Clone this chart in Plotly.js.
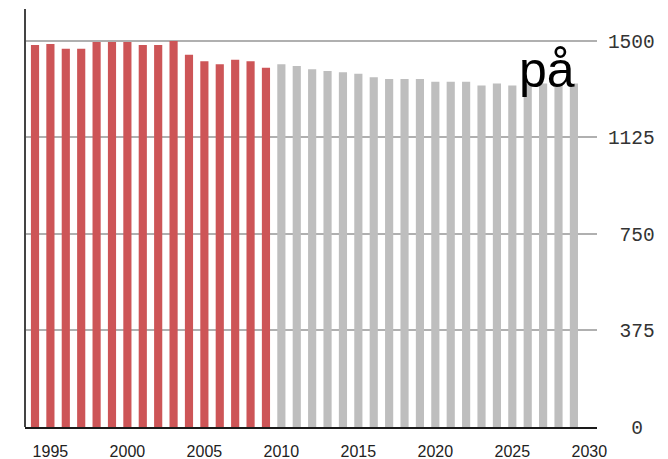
<!DOCTYPE html>
<html>
<head>
<meta charset="utf-8">
<script src="https://cdn.plot.ly/plotly-3.0.1.min.js"></script>
<style>html,body{margin:0;padding:0;background:#fff;}#chart{width:668px;height:459px;}</style>
</head>
<body>
<div id="chart"></div>
<script>
var histYears = [1994,1995,1996,1997,1998,1999,2000,2001,2002,2003,2004,2005,2006,2007,2008,2009];
var histValues = [1484,1488,1470,1470,1496,1496,1496,1484,1484,1500,1446,1421,1409,1427,1421,1396];
var projYears = [2010,2011,2012,2013,2014,2015,2016,2017,2018,2019,2020,2021,2022,2023,2024,2025,2026,2027,2028,2029];
var projValues = [1409,1403,1390,1383,1378,1372,1359,1352,1352,1352,1341,1341,1341,1327,1335,1327,1335,1335,1335,1335];
var xTickVals = [1995,2000,2005,2010,2015,2020,2025,2030];
var yTickVals = [0,375,750,1125,1500];
var yTickText = ["\u00a0\u00a00","\u00a0375","\u00a0750","1125","1500"];
var label = "på";

var traces = [
  {type:'bar', x:histYears, y:histValues, width:0.53, marker:{color:'#cd5557', line:{width:0}}, hoverinfo:'x+y', showlegend:false},
  {type:'bar', x:projYears, y:projValues, width:0.53, marker:{color:'#bebebe', line:{width:0}}, hoverinfo:'x+y', showlegend:false}
];

var layout = {
  width:668, height:459,
  margin:{l:25, r:71, t:9, b:32, pad:0},
  paper_bgcolor:'#ffffff', plot_bgcolor:'#ffffff',
  barmode:'overlay',
  showlegend:false,
  xaxis:{
    range:[1993.35, 2030.5], tickvals:xTickVals, ticktext:xTickVals.map(String),
    showgrid:false, zeroline:false, showline:true, linecolor:'#1a1a1a', linewidth:2,
    ticks:'outside', ticklen:9, tickcolor:'rgba(0,0,0,0)',
    tickfont:{family:'Liberation Sans, Arial, sans-serif', size:16, color:'#222'}
  },
  yaxis:{
    side:'right', range:[0,1624], tickvals:yTickVals, ticktext:yTickText,
    showgrid:true, gridcolor:'#b0b0b0', gridwidth:2, zeroline:false, showline:false,
    ticks:'outside', ticklen:6, tickcolor:'rgba(0,0,0,0)',
    tickfont:{family:'Liberation Mono, Courier New, monospace', size:19.5, color:'#333'}
  },
  shapes:[
    {type:'line', xref:'paper', yref:'paper', x0:0, x1:0, y0:0, y1:1, line:{color:'#444', width:2}}
  ],
  annotations:[
    {text:label, xref:'paper', yref:'paper', x:0.9126, y:0.854, xanchor:'center', yanchor:'middle', showarrow:false,
     font:{family:'Liberation Sans, Arial, sans-serif', size:50, color:'#000'}}
  ]
};

Plotly.newPlot('chart', traces, layout, {staticPlot:true, displayModeBar:false});
</script>
</body>
</html>
